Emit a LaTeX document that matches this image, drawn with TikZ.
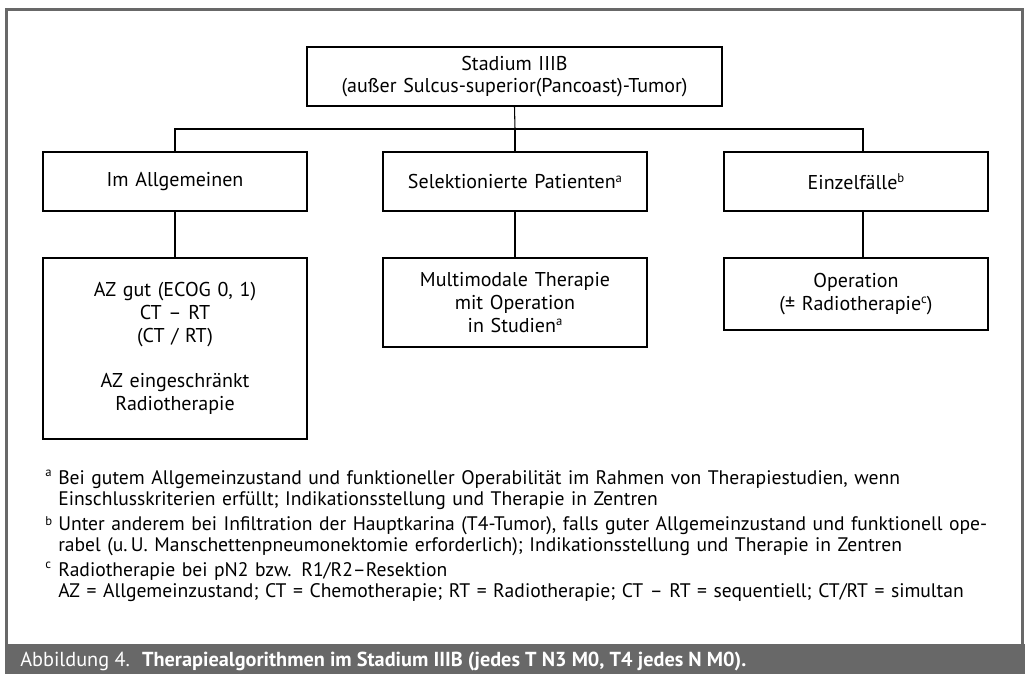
\documentclass[tikz,border=0pt]{standalone}
\usepackage{fontspec}
\setmainfont{PT Sans}
\setlength{\parindent}{0pt}
\definecolor{framegray}{HTML}{686868}
\newcommand{\fnsup}[1]{\raisebox{0.65ex}{\fontsize{9.5}{9.5}\selectfont #1}}

\begin{document}
\begin{tikzpicture}[x=0.75pt, y=-0.75pt,
    box/.style={draw, line width=0.9pt, align=center, inner sep=0pt,
      text width=198pt, font=\fontsize{15}{17}\selectfont},
    link/.style={line width=0.8pt},
    fntext/.style={anchor=north west, align=left, inner sep=0pt,
      text width=740pt, font=\fontsize{14.7}{15.6}\selectfont},
    fnmark/.style={anchor=north west, inner sep=0pt,
      font=\fontsize{9.5}{9.5}\selectfont}]
        \useasboundingbox (0,0) rectangle (1025,674);

        % frame and caption bar
        \draw [framegray, line width=2.25pt] (6.5,644) -- (6.5,9.5) -- (1022.5,9.5) -- (1022.5,644);
        \fill [framegray] (5,644) rectangle (1025,674);
        \node [anchor=base west, inner sep=0pt, text=white, font=\fontsize{15.2}{16}\selectfont]
          (caption) at (20,666) {Abbildung 4.\hspace{0.6em}\textbf{Therapiealgorithmen im Stadium IIIB (jedes T N3 M0, T4 jedes N M0).}};

        % boxes
        \node [box, text width=311.25pt, minimum height=44.25pt] (stadium) at (514.5,76.5)
          {Stadium IIIB\\(außer Sulcus-superior(Pancoast)-Tumor)};
        \node [box, minimum height=44.25pt] (allgemein) at (175,181.5) {Im Allgemeinen};
        \node [box, minimum height=44.25pt] (selekt) at (515,181.5) {Selektionierte Patienten\fnsup{a}};
        \node [box, minimum height=44.25pt] (einzel) at (856,181.5) {Einzelfälle\fnsup{b}};
        \node [box, minimum height=135.75pt] (standard) at (175,348.5)
          {AZ gut (ECOG 0, 1)\\CT – RT\\(CT / RT)\\[17pt]AZ eingeschränkt\\Radiotherapie};
        \node [box, minimum height=66.75pt] (multimodal) at (515,302.5)
          {Multimodale Therapie\\mit Operation\\in Studien\fnsup{a}};
        \node [box, minimum height=54pt] (operation) at (856,294)
          {Operation\\(± Radiotherapie\fnsup{c})};

        % connectors
        \coordinate (bus) at (515,129);
        \draw [link] (stadium.south) -- (bus);
        \draw [link] (allgemein.north) |- ([xshift=5.25pt]einzel.north |- bus) -- ([xshift=5.25pt]einzel.north);
        \draw [link] (bus) -- (selekt.north);
        \draw [link] (allgemein.south) -- (standard.north);
        \draw [link] (selekt.south) -- (multimodal.north);
        \draw [link] ([xshift=5.25pt]einzel.south) -- ([xshift=5.25pt]operation.north);

        % footnotes
        \node [fnmark] (marka) at (45,470) {a};
        \node [fntext] (fna) at (58,470) {Bei gutem Allgemeinzustand und funktioneller Operabilität im Rahmen von Therapiestudien, wenn\\Einschlusskriterien erfüllt; Indikationsstellung und Therapie in Zentren};
        \node [fnmark] (markb) at (45,516) {b};
        \node [fntext] (fnb) at (58,516) {Unter anderem bei Infiltration der Hauptkarina (T4-Tumor), falls guter Allgemeinzustand und funktionell ope-\\rabel (u.\,U. Manschettenpneumonektomie erforderlich); Indikationsstellung und Therapie in Zentren};
        \node [fnmark] (markc) at (45,562) {c};
        \node [fntext] (fnc) at (58,562) {Radiotherapie bei pN2 bzw. R1/R2–Resektion\\AZ = Allgemeinzustand; CT = Chemotherapie; RT = Radiotherapie; CT – RT = sequentiell; CT/RT = simultan};
      \end{tikzpicture}
\end{document}
